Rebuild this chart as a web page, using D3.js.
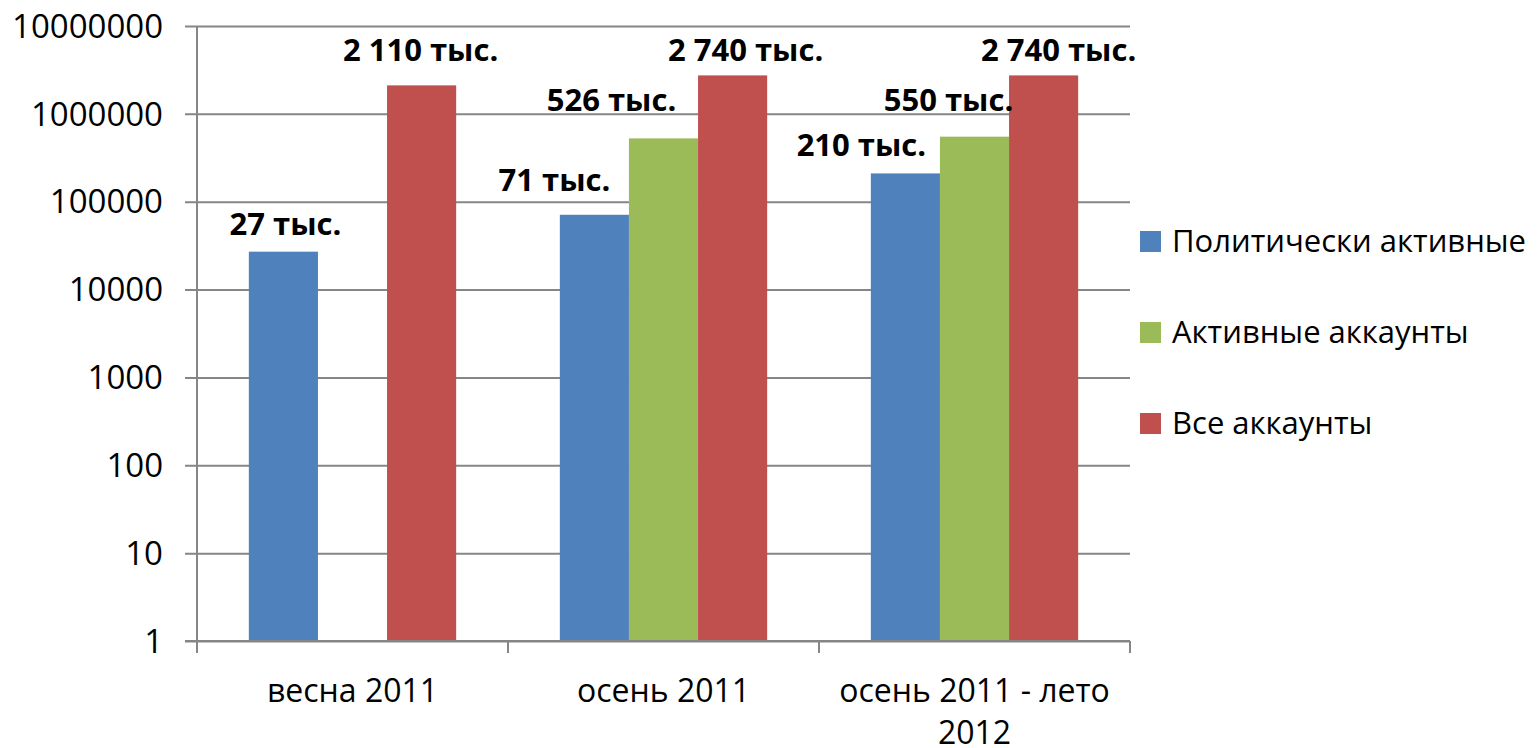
<!DOCTYPE html>
<html>
<head>
<meta charset="utf-8">
<script src="https://cdn.jsdelivr.net/npm/d3@7"></script>
<style>
  html, body { margin: 0; padding: 0; background: #fff; }
  text { font-family: "Open Sans", "Noto Sans", sans-serif; fill: #000; }
</style>
</head>
<body>
<div id="chart"></div>
<script>
// data ======
const categories = ["весна 2011", "осень 2011", "осень 2011 - лето 2012"];
const categoryLines = [["весна 2011"], ["осень 2011"], ["осень 2011 - лето", "2012"]];
const seriesNames = ["Политически активные", "Активные аккаунты", "Все аккаунты"];
const politicalActive = [27000, 71000, 210000];
const activeAccounts = [null, 526000, 550000];
const allAccounts = [2110000, 2740000, 2740000];
const yTicks = [1, 10, 100, 1000, 10000, 100000, 1000000, 10000000];

// hand-placed label nudges (dx, gap above bar), per series then category
const labelNudge = [
  [[2, 17], [-40, 24], [-44, 17]],
  [[0, 0], [-52, 27], [-26, 26]],
  [[-1, 24], [13, 14], [15, 14]],
];

const colors = ["#4F81BD", "#9BBB59", "#C0504D"];

function draw() {
  const dimensions = {
    width: 1537,
    height: 748,
    margin: { left: 197, right: 407, top: 26, bottom: 107 },
  };
  dimensions.ctrWidth = dimensions.width - dimensions.margin.left - dimensions.margin.right;
  dimensions.ctrHeight = dimensions.height - dimensions.margin.top - dimensions.margin.bottom;

  const series = [politicalActive, activeAccounts, allAccounts];

  const svg = d3
    .select("#chart")
    .append("svg")
    .attr("width", dimensions.width)
    .attr("height", dimensions.height)
    .style("display", "block");

  const ctr = svg
    .append("g")
    .attr("transform", `translate(${dimensions.margin.left},${dimensions.margin.top})`);

  //Scales ==========
  const xScale = d3
    .scaleBand()
    .domain(categories)
    .range([0, dimensions.ctrWidth]);

  const innerScale = d3
    .scaleBand()
    .domain(seriesNames)
    .range([0, xScale.bandwidth()])
    .paddingInner(0)
    .paddingOuter(0.75);

  const yScale = d3
    .scaleLog()
    .domain([1, 10000000])
    .range([dimensions.ctrHeight, 0]);

  //Grid + y axis ==========
  const gridColor = "#868686";

  const yAxis = d3
    .axisLeft(yScale)
    .tickValues(yTicks)
    .tickFormat(d3.format("d"))
    .tickSize(12)
    .tickPadding(22);

  const yAxisGroup = ctr.append("g").call(yAxis);
  yAxisGroup.select(".domain").remove();
  yAxisGroup.selectAll(".tick line")
    .attr("x2", dimensions.ctrWidth)
    .attr("x1", -12)
    .attr("stroke", gridColor)
    .attr("stroke-width", 2);
  yAxisGroup.selectAll(".tick text")
    .attr("dy", "0.34em")
    .style("font-size", "33px")
    .attr("fill", "#000");

  ctr.append("line")
    .attr("x1", 0).attr("x2", 0)
    .attr("y1", 0).attr("y2", dimensions.ctrHeight)
    .attr("stroke", gridColor)
    .attr("stroke-width", 2);

  //Bars ==========
  const barData = [];
  series.forEach((vals, s) => {
    vals.forEach((v, c) => {
      if (v != null) barData.push({ s, c, value: v });
    });
  });

  ctr.append("g")
    .selectAll("rect")
    .data(barData)
    .join("rect")
    .attr("x", (d) => xScale(categories[d.c]) + innerScale(seriesNames[d.s]))
    .attr("width", innerScale.bandwidth())
    .attr("y", (d) => yScale(d.value))
    .attr("height", (d) => dimensions.ctrHeight - yScale(d.value))
    .attr("fill", (d) => colors[d.s]);

  //X axis ==========
  ctr.append("line")
    .attr("x1", -12).attr("x2", dimensions.ctrWidth)
    .attr("y1", dimensions.ctrHeight).attr("y2", dimensions.ctrHeight)
    .attr("stroke", gridColor)
    .attr("stroke-width", 2);

  const boundaries = categories.map((c) => xScale(c)).concat([dimensions.ctrWidth]);
  ctr.append("g")
    .selectAll("line")
    .data(boundaries)
    .join("line")
    .attr("x1", (d) => d).attr("x2", (d) => d)
    .attr("y1", dimensions.ctrHeight)
    .attr("y2", dimensions.ctrHeight + 12)
    .attr("stroke", gridColor)
    .attr("stroke-width", 2);

  const catLabels = ctr.append("g")
    .selectAll("text")
    .data(categories)
    .join("text")
    .attr("x", (d) => xScale(d) + xScale.bandwidth() / 2)
    .attr("y", dimensions.ctrHeight + 61)
    .attr("text-anchor", "middle")
    .style("font-size", "32px");

  catLabels.selectAll("tspan")
    .data((d, i) => categoryLines[i])
    .join("tspan")
    .attr("x", function () { return d3.select(this.parentNode).attr("x"); })
    .attr("dy", (d, i) => (i === 0 ? 0 : 42))
    .text((d) => d);

  //Data labels ==========
  const fmt = d3.formatLocale({ thousands: " ", grouping: [3], decimal: ",", currency: ["", ""] }).format(",d");

  ctr.append("g")
    .selectAll("text")
    .data(barData)
    .join("text")
    .attr("x", (d) => xScale(categories[d.c]) + innerScale(seriesNames[d.s]) + innerScale.bandwidth() / 2 + labelNudge[d.s][d.c][0])
    .attr("y", (d) => yScale(d.value) - labelNudge[d.s][d.c][1])
    .attr("text-anchor", "middle")
    .style("font-size", "31px")
    .style("font-weight", "bold")
    .text((d) => `${fmt(Math.round(d.value / 1000))} тыс.`);

  //Legend ==========
  const legend = svg.append("g")
    .attr("transform", "translate(1140,252)");

  const items = legend.selectAll("g")
    .data(seriesNames)
    .join("g")
    .attr("transform", (d, i) => `translate(0,${i * 91})`);

  items.append("rect")
    .attr("x", 0)
    .attr("y", -21)
    .attr("width", 21)
    .attr("height", 21)
    .attr("fill", (d, i) => colors[i]);

  items.append("text")
    .attr("x", 32)
    .attr("y", 0)
    .style("font-size", "31px")
    .text((d) => d);
}

draw();
</script>
</body>
</html>
